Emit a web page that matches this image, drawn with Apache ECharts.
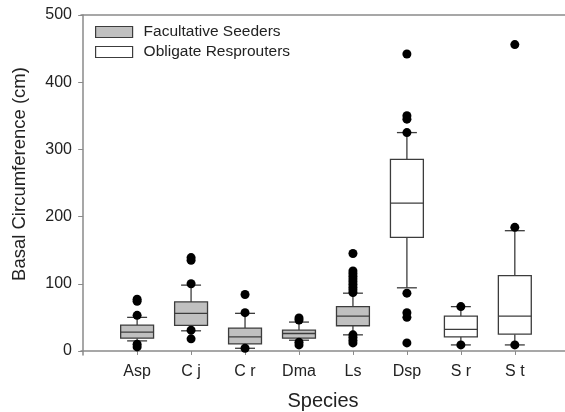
<!DOCTYPE html>
<html>
<head>
<meta charset="utf-8">
<style>
  html, body { margin: 0; padding: 0; background: #fff; }
  #chart { width: 565px; height: 412px; }
</style>
<script src="https://cdn.jsdelivr.net/npm/echarts@6/dist/echarts.min.js"></script>
</head>
<body>
<div id="chart"></div>
<script>
// species on the x axis, in plotting order
const species = ['Asp', 'C j', 'C r', 'Dma', 'Ls', 'Dsp', 'S r', 'S t']
const facultative = ['Asp', 'C j', 'C r', 'Dma', 'Ls']
const obligate = ['Dsp', 'S r', 'S t']

// box stats per species: [lower whisker, Q1, median, Q3, upper whisker]
const boxStats = {
  'Asp': [15, 19, 28, 38.5, 50],
  'C j': [30, 38, 56, 73, 98],
  'C r': [4, 10.5, 21, 34, 56],
  'Dma': [16, 19, 26, 31, 43],
  'Ls': [24, 37.5, 52, 66, 86],
  'Dsp': [94, 169, 220, 285, 325],
  'S r': [9, 21, 32, 52, 66],
  'S t': [9, 25, 52, 112, 179]
}

// outlying points per species
const outliers = {
  'Asp': [77, 74, 53, 10, 6],
  'C j': [139, 135, 100, 31, 18],
  'C r': [84, 57, 4],
  'Dma': [49, 46, 13, 9],
  'Ls': [145, 119, 115, 111, 107, 103, 99, 95, 91, 87, 24, 20, 16, 12],
  'Dsp': [442, 350, 345, 325, 86, 57, 50, 12],
  'S r': [66, 9],
  'S t': [456, 184, 9]
}

const yTicks = [0, 100, 200, 300, 400, 500]

const BOX_W = 0.61
const CAP_W = 0.37
const EDGE = '#3c3c3c'
const AXIS = '#8a8a8a'

function boxData(names) {
  return names.map(n => [species.indexOf(n) + 1].concat(boxStats[n]))
}

function makeRender(fill) {
  return function (params, api) {
    const x = api.value(0)
    const lo = api.coord([x, api.value(1)])
    const q1 = api.coord([x, api.value(2)])
    const md = api.coord([x, api.value(3)])
    const q3 = api.coord([x, api.value(4)])
    const hi = api.coord([x, api.value(5)])
    const bw = api.size([BOX_W, 0])[0]
    const cw = api.size([CAP_W, 0])[0]
    const st = { stroke: EDGE, lineWidth: 1.3 }
    return {
      type: 'group',
      children: [
        { type: 'line', shape: { x1: lo[0], y1: lo[1], x2: q1[0], y2: q1[1] }, style: st },
        { type: 'line', shape: { x1: q3[0], y1: q3[1], x2: hi[0], y2: hi[1] }, style: st },
        { type: 'line', shape: { x1: lo[0] - cw / 2, y1: lo[1], x2: lo[0] + cw / 2, y2: lo[1] }, style: st },
        { type: 'line', shape: { x1: hi[0] - cw / 2, y1: hi[1], x2: hi[0] + cw / 2, y2: hi[1] }, style: st },
        { type: 'rect', shape: { x: q3[0] - bw / 2, y: q3[1], width: bw, height: q1[1] - q3[1] }, style: { fill: fill, stroke: EDGE, lineWidth: 1.3 } },
        { type: 'line', shape: { x1: md[0] - bw / 2, y1: md[1], x2: md[0] + bw / 2, y2: md[1] }, style: st }
      ]
    }
  }
}

const outlierData = []
species.forEach((n, i) => {
  outliers[n].forEach(v => outlierData.push([i + 1, v]))
})

const chart = echarts.init(document.getElementById('chart'))
chart.setOption({
  animation: false,
  textStyle: { fontFamily: 'Liberation Sans, Arial, sans-serif' },
  grid: { left: 81, right: 0, top: 15, bottom: 57, outerBoundsMode: 'none' },
  legend: {
    orient: 'vertical',
    left: 95,
    top: 24,
    padding: 0,
    itemGap: 4,
    itemWidth: 37,
    itemHeight: 11,
    textStyle: { fontSize: 15.5, color: '#222', lineHeight: 16, padding: [0, 0, 0, 6] },
    data: [
      { name: 'Facultative Seeders', icon: 'rect', itemStyle: { color: '#c0c0c0', borderColor: EDGE, borderWidth: 1.2 } },
      { name: 'Obligate Resprouters', icon: 'rect', itemStyle: { color: '#fff', borderColor: EDGE, borderWidth: 1.2 } }
    ]
  },
  xAxis: [{
    type: 'value',
    min: -0.04,
    max: 8.93,
    name: 'Species',
    nameLocation: 'middle',
    nameGap: 36,
    nameTextStyle: { fontSize: 20, color: '#222' },
    splitLine: { show: false },
    axisLine: { lineStyle: { color: AXIS, width: 1.5 } },
    axisTick: { length: 4, customValues: species.map((s, i) => i + 1), lineStyle: { color: AXIS } },
    axisLabel: {
      customValues: species.map((s, i) => i + 1),
      formatter: v => species[Math.round(v) - 1] || '',
      fontSize: 16,
      color: '#222',
      margin: 9
    }
  }, {
    type: 'value',
    position: 'top',
    min: -0.04,
    max: 8.93,
    splitLine: { show: false },
    axisLine: { show: true, lineStyle: { color: AXIS, width: 1.5 } },
    axisTick: { show: false },
    axisLabel: { show: false }
  }],
  yAxis: {
    type: 'value',
    min: -6,
    max: 500,
    name: 'Basal Circumference (cm)',
    nameLocation: 'middle',
    nameGap: 52,
    nameTextStyle: { fontSize: 18.5, color: '#222', padding: [0, 0, 0, 22] },
    splitLine: { show: false },
    axisLine: { show: true, lineStyle: { color: AXIS, width: 1.5 } },
    axisTick: { show: true, length: 5, customValues: yTicks, lineStyle: { color: AXIS } },
    axisLabel: { customValues: yTicks, fontSize: 16, color: '#222', margin: 9 }
  },
  series: [
    {
      name: 'Facultative Seeders',
      type: 'custom',
      renderItem: makeRender('#c0c0c0'),
      encode: { x: 0, y: [1, 2, 3, 4, 5] },
      data: boxData(facultative),
      z: 2
    },
    {
      name: 'Obligate Resprouters',
      type: 'custom',
      renderItem: makeRender('#fff'),
      encode: { x: 0, y: [1, 2, 3, 4, 5] },
      data: boxData(obligate),
      z: 2
    },
    {
      name: 'outliers',
      type: 'scatter',
      symbolSize: 9,
      itemStyle: { color: '#000', opacity: 1 },
      data: outlierData,
      z: 3
    }
  ]
})
</script>
</body>
</html>
